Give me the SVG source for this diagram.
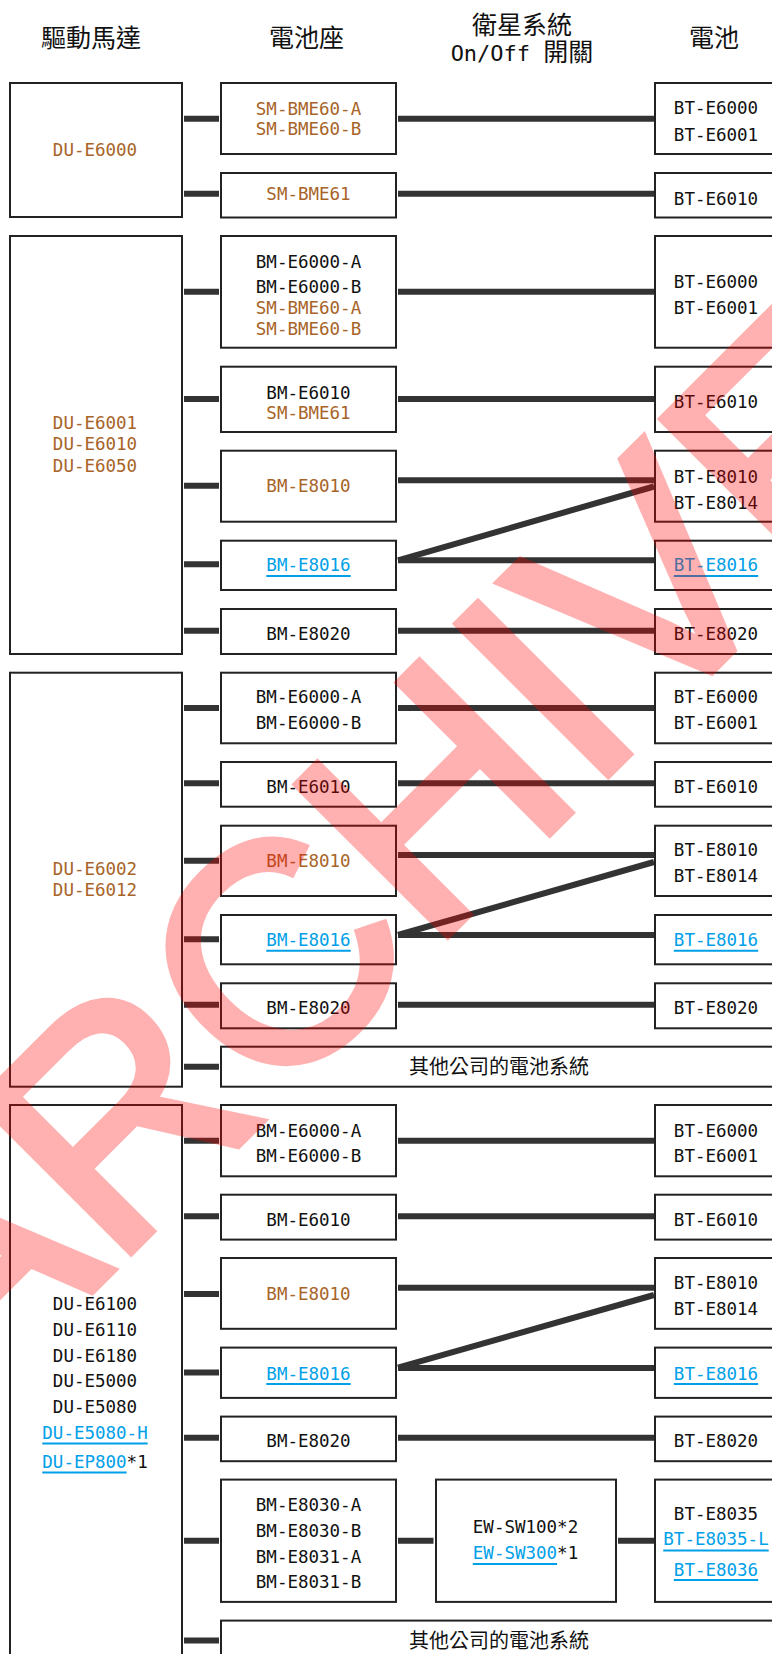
<svg xmlns="http://www.w3.org/2000/svg" width="772" height="1654" viewBox="0 0 772 1654">
<style>
.box{fill:#fff;stroke:#222;stroke-width:2}
.t{font-family:'DejaVu Sans Mono','Liberation Mono',monospace;font-size:17.5px;text-anchor:middle;fill:#111}
.br{fill:#a86428}
.bl{fill:#00a0e9}
.ul{stroke:#00a0e9;stroke-width:2}
.c{stroke:#333;stroke-width:6;fill:none}
.h{font-family:'Noto Sans CJK TC','Noto Sans CJK SC',sans-serif;font-size:25px;text-anchor:middle;fill:#111}
.cj{font-family:'Noto Sans CJK TC','Noto Sans CJK SC',sans-serif;font-size:20px;text-anchor:middle;fill:#111}
.wm{font-family:'Liberation Sans',Arial,sans-serif;font-size:310px;fill:#f00;stroke:#f00;stroke-width:8}
</style>
<rect width="772" height="1654" fill="#fff"/>
<g id="headers">
<text class="h" x="91" y="47">驅動馬達</text>
<text class="h" x="306.5" y="47">電池座</text>
<text class="h" x="522" y="33.5">衛星系統</text>
<text class="h" x="522" y="60.5"><tspan font-family="'DejaVu Sans Mono',monospace" font-size="22">On/Off </tspan><tspan>開關</tspan></text>
<text class="h" x="714" y="47">電池</text>
</g>
<g id="connectors">
<line class="c" x1="184" y1="118.7" x2="219" y2="118.7"/>
<line class="c" x1="398" y1="118.7" x2="654" y2="118.7"/>
<line class="c" x1="184" y1="193.7" x2="219" y2="193.7"/>
<line class="c" x1="398" y1="193.7" x2="654" y2="193.7"/>
<line class="c" x1="184" y1="291.7" x2="219" y2="291.7"/>
<line class="c" x1="398" y1="291.7" x2="654" y2="291.7"/>
<line class="c" x1="184" y1="399" x2="219" y2="399"/>
<line class="c" x1="398" y1="399" x2="654" y2="399"/>
<line class="c" x1="184" y1="485.7" x2="219" y2="485.7"/>
<line class="c" x1="398" y1="480.3" x2="654" y2="480.3"/>
<line class="c" x1="398" y1="560.3" x2="654" y2="486.5"/>
<line class="c" x1="184" y1="564.3" x2="219" y2="564.3"/>
<line class="c" x1="398" y1="560.3" x2="654" y2="560.3"/>
<line class="c" x1="184" y1="630.7" x2="219" y2="630.7"/>
<line class="c" x1="398" y1="630.7" x2="654" y2="630.7"/>
<line class="c" x1="184" y1="708" x2="219" y2="708"/>
<line class="c" x1="398" y1="708" x2="654" y2="708"/>
<line class="c" x1="184" y1="783.3" x2="219" y2="783.3"/>
<line class="c" x1="398" y1="783.3" x2="654" y2="783.3"/>
<line class="c" x1="184" y1="860.7" x2="219" y2="860.7"/>
<line class="c" x1="398" y1="855" x2="654" y2="855"/>
<line class="c" x1="398" y1="935" x2="654" y2="862"/>
<line class="c" x1="184" y1="939.3" x2="219" y2="939.3"/>
<line class="c" x1="398" y1="935" x2="654" y2="935"/>
<line class="c" x1="184" y1="1004.7" x2="219" y2="1004.7"/>
<line class="c" x1="398" y1="1004.7" x2="654" y2="1004.7"/>
<line class="c" x1="184" y1="1066.7" x2="219" y2="1066.7"/>
<line class="c" x1="184" y1="1140.7" x2="219" y2="1140.7"/>
<line class="c" x1="398" y1="1140.7" x2="654" y2="1140.7"/>
<line class="c" x1="184" y1="1216.3" x2="219" y2="1216.3"/>
<line class="c" x1="398" y1="1216.3" x2="654" y2="1216.3"/>
<line class="c" x1="184" y1="1294" x2="219" y2="1294"/>
<line class="c" x1="398" y1="1287.8" x2="654" y2="1287.8"/>
<line class="c" x1="398" y1="1367.7" x2="654" y2="1295"/>
<line class="c" x1="184" y1="1372.4" x2="219" y2="1372.4"/>
<line class="c" x1="398" y1="1368.1" x2="654" y2="1368.1"/>
<line class="c" x1="184" y1="1437.8" x2="219" y2="1437.8"/>
<line class="c" x1="398" y1="1437.8" x2="654" y2="1437.8"/>
<line class="c" x1="184" y1="1540.7" x2="219" y2="1540.7"/>
<line class="c" x1="398" y1="1540.7" x2="433.5" y2="1540.7"/>
<line class="c" x1="618" y1="1540.7" x2="654" y2="1540.7"/>
<line class="c" x1="184" y1="1640.4" x2="219" y2="1640.4"/>
</g>
<g id="motor1"><rect class="box" x="10" y="83" width="172" height="134"/><text class="t br" x="95" y="155.9">DU-E6000</text></g>
<g id="mount1a"><rect class="box" x="221" y="83" width="175" height="71"/><text class="t br" x="308.5" y="114.7">SM-BME60-A</text><text class="t br" x="308.5" y="134.7">SM-BME60-B</text></g>
<g id="battery1a"><rect class="box" x="655" y="83" width="125" height="71"/><text class="t" x="716" y="113.9">BT-E6000</text><text class="t" x="716" y="140.6">BT-E6001</text></g>
<g id="mount1b"><rect class="box" x="221" y="173" width="175" height="44.5"/><text class="t br" x="308.5" y="199.7">SM-BME61</text></g>
<g id="battery1b"><rect class="box" x="655" y="173" width="125" height="44.5"/><text class="t" x="716" y="204.7">BT-E6010</text></g>

<g id="motor2"><rect class="box" x="10" y="236" width="172" height="418"/><text class="t br" x="95" y="429.4">DU-E6001</text><text class="t br" x="95" y="450.4">DU-E6010</text><text class="t br" x="95" y="471.9">DU-E6050</text></g>
<g id="mount2a"><rect class="box" x="221" y="236" width="175" height="111.7"/><text class="t" x="308.5" y="268.1">BM-E6000-A</text><text class="t" x="308.5" y="293.4">BM-E6000-B</text><text class="t br" x="308.5" y="313.9">SM-BME60-A</text><text class="t br" x="308.5" y="334.7">SM-BME60-B</text></g>
<g id="battery2a"><rect class="box" x="655" y="236" width="125" height="111.7"/><text class="t" x="716" y="288.4">BT-E6000</text><text class="t" x="716" y="313.6">BT-E6001</text></g>
<g id="mount2b"><rect class="box" x="221" y="366.7" width="175" height="65.3"/><text class="t" x="308.5" y="398.9">BM-E6010</text><text class="t br" x="308.5" y="418.6">SM-BME61</text></g>
<g id="battery2b"><rect class="box" x="655" y="366.7" width="125" height="65.3"/><text class="t" x="716" y="408.4">BT-E6010</text></g>
<g id="mount2c"><rect class="box" x="221" y="450.7" width="175" height="71"/><text class="t br" x="308.5" y="492.4">BM-E8010</text></g>
<g id="battery2c"><rect class="box" x="655" y="450.7" width="125" height="71"/><text class="t" x="716" y="482.6">BT-E8010</text><text class="t" x="716" y="508.6">BT-E8014</text></g>
<g id="mount2d"><rect class="box" x="221" y="540.7" width="175" height="49.3"/><text class="t bl" x="308.5" y="571.4">BM-E8016</text><line class="ul" x1="266.3" y1="576" x2="350.7" y2="576"/></g>
<g id="battery2d"><rect class="box" x="655" y="540.7" width="125" height="49.3"/><text class="t bl" x="716" y="571.4">BT-E8016</text><line class="ul" x1="673.8" y1="576" x2="758.2" y2="576"/></g>
<g id="mount2e"><rect class="box" x="221" y="609" width="175" height="45"/><text class="t" x="308.5" y="639.7">BM-E8020</text></g>
<g id="battery2e"><rect class="box" x="655" y="609" width="125" height="45"/><text class="t" x="716" y="639.7">BT-E8020</text></g>

<g id="motor3"><rect class="box" x="10" y="672.7" width="172" height="414"/><text class="t br" x="95" y="875.2">DU-E6002</text><text class="t br" x="95" y="896.4">DU-E6012</text></g>
<g id="mount3a"><rect class="box" x="221" y="672.7" width="175" height="70.6"/><text class="t" x="308.5" y="703.1">BM-E6000-A</text><text class="t" x="308.5" y="729.2">BM-E6000-B</text></g>
<g id="battery3a"><rect class="box" x="655" y="672.7" width="125" height="70.6"/><text class="t" x="716" y="703.1">BT-E6000</text><text class="t" x="716" y="729.2">BT-E6001</text></g>
<g id="mount3b"><rect class="box" x="221" y="762" width="175" height="44.7"/><text class="t" x="308.5" y="793.1">BM-E6010</text></g>
<g id="battery3b"><rect class="box" x="655" y="762" width="125" height="44.7"/><text class="t" x="716" y="793.1">BT-E6010</text></g>
<g id="mount3c"><rect class="box" x="221" y="825.7" width="175" height="70.3"/><text class="t br" x="308.5" y="867.2">BM-E8010</text></g>
<g id="battery3c"><rect class="box" x="655" y="825.7" width="125" height="70.3"/><text class="t" x="716" y="855.9">BT-E8010</text><text class="t" x="716" y="882.2">BT-E8014</text></g>
<g id="mount3d"><rect class="box" x="221" y="915" width="175" height="49.3"/><text class="t bl" x="308.5" y="946.2">BM-E8016</text><line class="ul" x1="266.3" y1="950.8" x2="350.7" y2="950.8"/></g>
<g id="battery3d"><rect class="box" x="655" y="915" width="125" height="49.3"/><text class="t bl" x="716" y="946.2">BT-E8016</text><line class="ul" x1="673.8" y1="950.8" x2="758.2" y2="950.8"/></g>
<g id="mount3e"><rect class="box" x="221" y="983.3" width="175" height="45"/><text class="t" x="308.5" y="1013.9">BM-E8020</text></g>
<g id="battery3e"><rect class="box" x="655" y="983.3" width="125" height="45"/><text class="t" x="716" y="1013.9">BT-E8020</text></g>
<g id="other3"><rect class="box" x="221" y="1046.7" width="560" height="40"/><text class="cj" x="499" y="1074.3">其他公司的電池系統</text></g>

<g id="motor4"><rect class="box" x="10" y="1105" width="172" height="580"/>
<text class="t" x="95" y="1310.4">DU-E6100</text>
<text class="t" x="95" y="1336.4">DU-E6110</text>
<text class="t" x="95" y="1362.4">DU-E6180</text>
<text class="t" x="95" y="1387">DU-E5000</text>
<text class="t" x="95" y="1412.9">DU-E5080</text>
<text class="t bl" x="95" y="1439.4">DU-E5080-H</text><line class="ul" x1="42.3" y1="1443.6" x2="147.7" y2="1443.6"/>
<text class="t" x="95" y="1468"><tspan class="bl">DU-EP800</tspan>*1</text><line class="ul" x1="42.3" y1="1472.4" x2="126.6" y2="1472.4"/>
</g>
<g id="mount4a"><rect class="box" x="221" y="1105" width="175" height="71.3"/><text class="t" x="308.5" y="1136.7">BM-E6000-A</text><text class="t" x="308.5" y="1162.2">BM-E6000-B</text></g>
<g id="battery4a"><rect class="box" x="655" y="1105" width="125" height="71.3"/><text class="t" x="716" y="1136.7">BT-E6000</text><text class="t" x="716" y="1162.2">BT-E6001</text></g>
<g id="mount4b"><rect class="box" x="221" y="1194.7" width="175" height="44.9"/><text class="t" x="308.5" y="1225.9">BM-E6010</text></g>
<g id="battery4b"><rect class="box" x="655" y="1194.7" width="125" height="44.9"/><text class="t" x="716" y="1225.9">BT-E6010</text></g>
<g id="mount4c"><rect class="box" x="221" y="1258" width="175" height="70.8"/><text class="t br" x="308.5" y="1300.4">BM-E8010</text></g>
<g id="battery4c"><rect class="box" x="655" y="1258" width="125" height="70.8"/><text class="t" x="716" y="1289.2">BT-E8010</text><text class="t" x="716" y="1315.1">BT-E8014</text></g>
<g id="mount4d"><rect class="box" x="221" y="1347.6" width="175" height="50.3"/><text class="t bl" x="308.5" y="1379.5">BM-E8016</text><line class="ul" x1="266.3" y1="1383.9" x2="350.7" y2="1383.9"/></g>
<g id="battery4d"><rect class="box" x="655" y="1347.6" width="125" height="50.3"/><text class="t bl" x="716" y="1379.5">BT-E8016</text><line class="ul" x1="673.8" y1="1383.9" x2="758.2" y2="1383.9"/></g>
<g id="mount4e"><rect class="box" x="221" y="1416.6" width="175" height="44.6"/><text class="t" x="308.5" y="1447.1">BM-E8020</text></g>
<g id="battery4e"><rect class="box" x="655" y="1416.6" width="125" height="44.6"/><text class="t" x="716" y="1447.1">BT-E8020</text></g>
<g id="mount4f"><rect class="box" x="221" y="1479.6" width="175" height="122.3"/><text class="t" x="308.5" y="1511.4">BM-E8030-A</text><text class="t" x="308.5" y="1537.4">BM-E8030-B</text><text class="t" x="308.5" y="1563">BM-E8031-A</text><text class="t" x="308.5" y="1588.4">BM-E8031-B</text></g>
<g id="switch4f"><rect class="box" x="436" y="1479.6" width="180" height="122.3"/><text class="t" x="525.5" y="1533.4">EW-SW100*2</text><text class="t" x="525.5" y="1559.4"><tspan class="bl">EW-SW300</tspan>*1</text><line class="ul" x1="472.8" y1="1564.1" x2="557.1" y2="1564.1"/></g>
<g id="battery4f"><rect class="box" x="655" y="1479.6" width="125" height="122.3"/><text class="t" x="716" y="1520.1">BT-E8035</text><text class="t bl" x="716" y="1545.3">BT-E8035-L</text><line class="ul" x1="663.3" y1="1550.4" x2="768.7" y2="1550.4"/><text class="t bl" x="716" y="1575.5">BT-E8036</text><line class="ul" x1="673.8" y1="1579.9" x2="758.2" y2="1579.9"/></g>
<g id="other4"><rect class="box" x="221" y="1620.6" width="560" height="60"/><text class="cj" x="499" y="1648">其他公司的電池系統</text></g>

<g id="watermark" opacity="0.3"><text class="wm" x="-33" y="1416" transform="rotate(-45 -33 1416)">ARCHIVE</text></g>
</svg>
